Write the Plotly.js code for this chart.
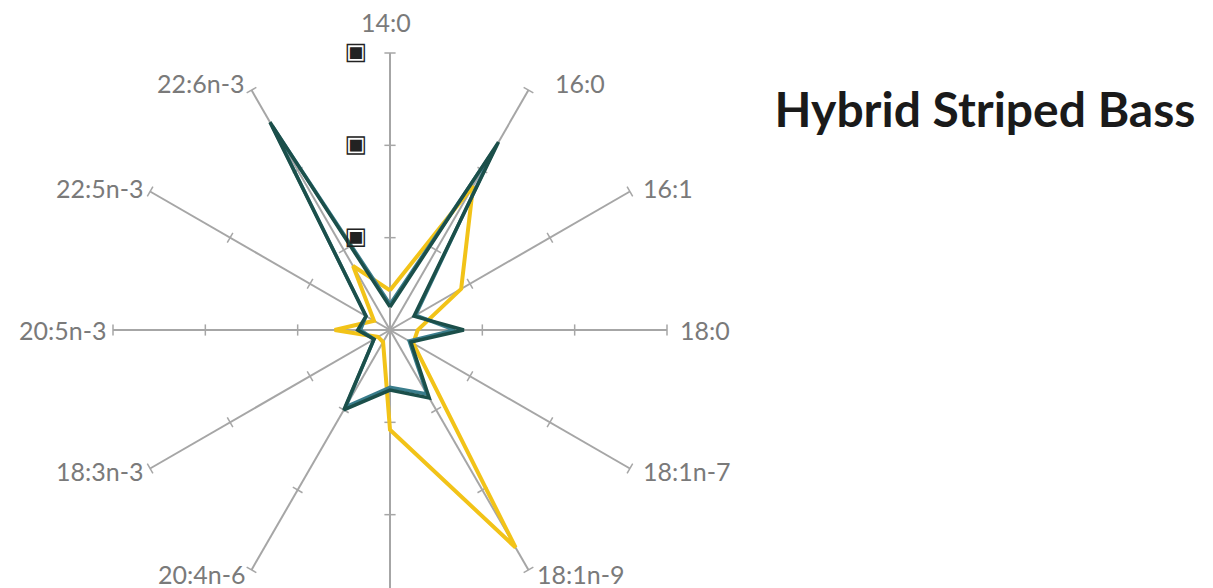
<!DOCTYPE html>
<html>
<head>
<meta charset="utf-8">
<script src="https://cdn.plot.ly/plotly-3.0.1.min.js"></script>
<style>
html,body{margin:0;padding:0;width:1213px;height:588px;overflow:hidden;background:#fff;}
#chart{width:1213px;height:680px;}
</style>
</head>
<body>
<div id="chart"></div>
<script>
// Fatty acid categories (clockwise from top)
const categories = ["14:0","16:0","16:1","18:0","18:1n-7","18:1n-9","18:2n-6","20:4n-6","18:3n-3","20:5n-3","22:5n-3","22:6n-3"];
// Series values (percent of total fatty acids)
const seriesYellow   = [4.3, 18.0, 8.9, 3.0, 2.9, 27.2, 10.8, 1.5, 1.5, 6.0, 2.0, 8.0];
const seriesTeal     = [2.8, 22.5, 3.2, 7.0, 2.4, 8.0, 6.2, 9.6, 2.0, 3.2, 3.0, 25.5];
const seriesDarkTeal = [2.5, 23.5, 3.0, 8.0, 2.6, 8.5, 6.5, 10.0, 2.0, 3.5, 3.0, 26.0];
const radialTicks = [10, 20, 30];
const radialTickText = ["▣", "▣", "▣"];
const titleText = "Hybrid Striped Bass";

const W = 1213, H = 680, VISIBLE_H = 588;
const dom = {x:[113/W, 667/W], y:[1-607/H, 1-53/H]};

function closed(arr){ return arr.concat([arr[0]]); }
const cats = closed(categories);

// small tick marks on each spoke
const tickR = [], tickTheta = [], tickAng = [];
categories.forEach((c, i) => {
  radialTicks.forEach(v => { tickR.push(v); tickTheta.push(c); tickAng.push(i * 360 / categories.length); });
});

// category labels placed just beyond the end of each spoke
const cx = (dom.x[0] + dom.x[1]) / 2 * W;
const cy = (1 - (dom.y[0] + dom.y[1]) / 2) * H;
const R = (dom.x[1] - dom.x[0]) * W / 2;
const annotations = [];
categories.forEach((c, i) => {
  const a = i * 2 * Math.PI / categories.length;
  const s = Math.sin(a), co = Math.cos(a);
  let ex = cx + R * s, ey = cy - R * co;
  let xanchor = "center", yanchor = "middle";
  if (s > 0.1) { xanchor = "left"; ex += (i === 1 ? 24 : (co < -0.8 ? 6 : 11)); }
  else if (s < -0.1) { xanchor = "right"; ex -= 4; }
  if (Math.abs(s) <= 0.1) { yanchor = co > 0 ? "bottom" : "top"; ey += co > 0 ? -14 : 14; ex -= 4; }
  else { ey -= (co > 0 ? 8 : 5) * co; }
  if (ey > VISIBLE_H) return; // label lies below the visible frame, as in the reference
  annotations.push({text:c, xref:"paper", yref:"paper", x:ex / W, y:1 - ey / H,
          xanchor, yanchor, showarrow:false,
          font:{family:"Lato", size:25, color:"#7a7a7a"}});
});

const traces = [
  {type:"scatterpolar", r: tickR, theta: tickTheta, mode:"markers", hoverinfo:"skip",
   marker:{symbol:"line-ew", size:8, angle: tickAng, line:{color:"#a6a6a6", width:1.5}}, showlegend:false},
  {type:"scatterpolar", r: closed(seriesYellow), theta: cats, mode:"lines",
   line:{color:"#f2c318", width:4}, showlegend:false},
  {type:"scatterpolar", r: closed(seriesTeal), theta: cats, mode:"lines",
   line:{color:"#3a7d8c", width:3.5}, showlegend:false},
  {type:"scatterpolar", r: closed(seriesDarkTeal), theta: cats, mode:"lines",
   line:{color:"#1b4f4a", width:3.5}, showlegend:false}
];

const layout = {
  width:W, height:H,
  margin:{l:0, r:0, t:0, b:0},
  paper_bgcolor:"#ffffff",
  showlegend:false,
  title:{text:"<b>"+titleText+"</b>", font:{family:"Lato", size:48, color:"#1a1a1a"},
         xref:"paper", yref:"paper", x:985/W, xanchor:"center", y:1-110/H, yanchor:"middle"},
  annotations: annotations,
  polar:{
    domain:dom,
    bgcolor:"rgba(0,0,0,0)",
    angularaxis:{
      type:"category", categoryarray:categories, rotation:90, direction:"clockwise",
      showline:false, showgrid:true, gridcolor:"#a6a6a6", gridwidth:2,
      ticks:"", showticklabels:false
    },
    radialaxis:{
      range:[0,30], angle:90, tickangle:0, side:"counterclockwise",
      showgrid:false, showline:false,
      tickvals:radialTicks, ticktext:radialTickText,
      ticks:"outside", ticklen:18, tickcolor:"rgba(0,0,0,0)",
      tickfont:{family:"DejaVu Sans", size:24, color:"#222222"}
    }
  }
};

Plotly.newPlot("chart", traces, layout, {displayModeBar:false, staticPlot:true});
</script>
</body>
</html>
